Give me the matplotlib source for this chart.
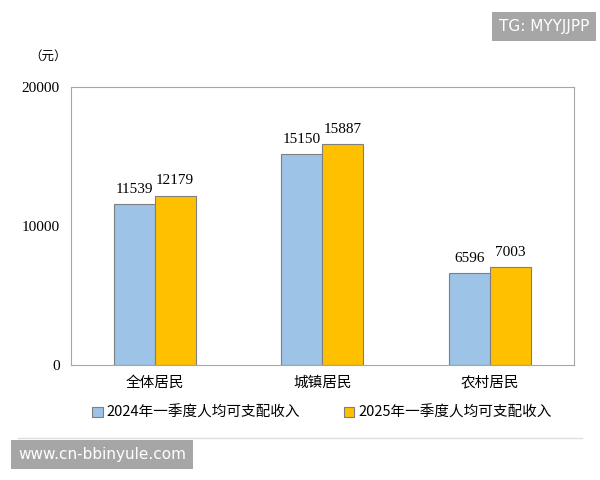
import matplotlib
matplotlib.use("Agg")
import matplotlib.pyplot as plt
import numpy as np

plt.rcParams['font.family'] = ['Noto Sans CJK SC', 'DejaVu Sans']

categories = ["全体居民", "城镇居民", "农村居民"]
s2024 = [11539, 15150, 6596]
s2025 = [12179, 15887, 7003]
series_names = ["2024年一季度人均可支配收入", "2025年一季度人均可支配收入"]
yticks = [0, 10000, 20000]

fig = plt.figure(figsize=(6, 4.8), dpi=100)
ax = fig.add_axes([0.118, 0.24, 0.838, 0.579])
x = np.arange(len(categories))
w = 0.245
c1, c2 = "#9DC3E6", "#FFC000"
b1 = ax.bar(x - w/2, s2024, w, color=c1, edgecolor="#7f7f7f", linewidth=0.8)
b2 = ax.bar(x + w/2, s2025, w, color=c2, edgecolor="#7f7f7f", linewidth=0.8)
for xi, v in zip(x - w/2, s2024):
    ax.text(xi, v + 600, str(v), ha="center", va="bottom", fontsize=11, family="Liberation Serif")
for xi, v in zip(x + w/2, s2025):
    ax.text(xi, v + 600, str(v), ha="center", va="bottom", fontsize=11, family="Liberation Serif")
ax.set_xlim(-0.5, 2.5)
ax.set_ylim(0, 20000)
ax.set_yticks(yticks)
ax.set_yticklabels([str(t) for t in yticks], family="Liberation Serif", fontsize=11)
ax.set_xticks(x)
ax.set_xticklabels(categories, fontsize=10.5)
ax.tick_params(length=0, pad=8)
for s in ax.spines.values():
    s.set_color("#a6a6a6")
fig.text(0.08, 0.875, "（元）", fontsize=9, ha="center")
ax.legend([b1, b2], series_names, loc="upper center", bbox_to_anchor=(0.5, -0.1),
          ncol=2, frameon=False, fontsize=10.5, handlelength=0.7, handleheight=0.7,
          columnspacing=3, handletextpad=0.3)
fig.add_artist(plt.Line2D([0.03, 0.97], [0.088, 0.088], color="#dddddd", lw=1))
fig.text(0.982, 0.945, "TG: MYYJJPP", fontsize=11, color="white", ha="right", va="center",
         family="DejaVu Sans", bbox=dict(boxstyle="square,pad=0.45", fc="#a6a6a6", ec="none"))
fig.text(0.03, 0.053, "www.cn-bbinyule.com", fontsize=11, color="white", ha="left", va="center",
         family="DejaVu Sans", bbox=dict(boxstyle="square,pad=0.45", fc="#a6a6a6", ec="none"))
fig.savefig("out.png", dpi=100)
